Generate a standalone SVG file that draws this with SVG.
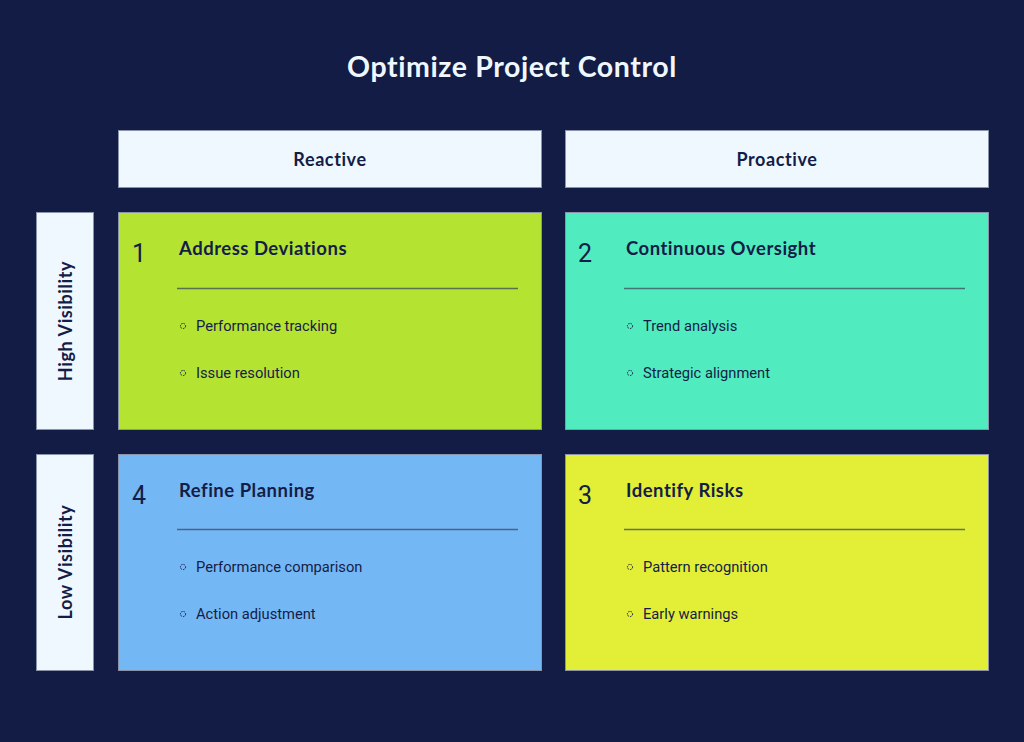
<svg xmlns="http://www.w3.org/2000/svg" width="1024" height="742" viewBox="0 0 1024 742">
<style>
.hdr{fill:#f0f8ff;stroke:#8a93aa;stroke-width:1}
.hdrt{font-family:Lato,"Noto Sans",sans-serif;font-weight:700;font-size:18px;letter-spacing:0.6px;fill:#141d47;text-anchor:middle}
.num{font-family:Roboto,"Noto Sans",sans-serif;font-weight:400;font-size:25px;fill:#141d47}
.ttl{font-family:Lato,"Noto Sans",sans-serif;font-weight:700;font-size:18.5px;letter-spacing:0.5px;fill:#141d47}
.sep{stroke:#3d4a5a;stroke-opacity:0.75;stroke-width:1.5}
.bul{fill:none;stroke:#141d47;stroke-width:1;stroke-dasharray:1.5 1}
.txt{font-family:Roboto,"Noto Sans",sans-serif;font-size:14.7px;fill:#141d47}
.cell{stroke:#8a93aa;stroke-width:1}
</style>
<rect width="1024" height="742" fill="#121c45"/>
<text x="512" y="77" font-family="Lato,'Noto Sans',sans-serif" font-weight="700" font-size="28.5" letter-spacing="0.6" fill="#f0f8ff" text-anchor="middle">Optimize Project Control</text>
<g id="col-reactive"><rect class="hdr" x="118.5" y="130.5" width="423" height="57"/><text class="hdrt" x="330" y="166">Reactive</text></g>
<g id="col-proactive"><rect class="hdr" x="565.5" y="130.5" width="423" height="57"/><text class="hdrt" x="777" y="166">Proactive</text></g>
<g id="row-high"><rect class="hdr" x="36.5" y="212.5" width="57" height="217"/><text class="hdrt" transform="translate(72,321) rotate(-90)">High Visibility</text></g>
<g id="row-low"><rect class="hdr" x="36.5" y="454.5" width="57" height="216"/><text class="hdrt" transform="translate(72,562) rotate(-90)">Low Visibility</text></g>
<g id="q1"><rect class="cell" x="118.5" y="212.5" width="423" height="217" fill="#b5e332"/>
<text class="num" x="132" y="262">1</text><text class="ttl" x="179" y="255">Address Deviations</text>
<line class="sep" x1="177" y1="288.5" x2="518" y2="288.5"/>
<circle class="bul" cx="183" cy="326" r="2.6"/><text class="txt" x="196" y="331">Performance tracking</text>
<circle class="bul" cx="183" cy="373" r="2.6"/><text class="txt" x="196" y="378">Issue resolution</text></g>
<g id="q2"><rect class="cell" x="565.5" y="212.5" width="423" height="217" fill="#50ecc0"/>
<text class="num" x="578" y="262">2</text><text class="ttl" x="626" y="255">Continuous Oversight</text>
<line class="sep" x1="624" y1="288.5" x2="965" y2="288.5"/>
<circle class="bul" cx="630" cy="326" r="2.6"/><text class="txt" x="643" y="331">Trend analysis</text>
<circle class="bul" cx="630" cy="373" r="2.6"/><text class="txt" x="643" y="378">Strategic alignment</text></g>
<g id="q4"><rect class="cell" x="118.5" y="454.5" width="423" height="216" fill="#74b7f5"/>
<text class="num" x="132" y="504">4</text><text class="ttl" x="179" y="497">Refine Planning</text>
<line class="sep" x1="177" y1="529.5" x2="518" y2="529.5"/>
<circle class="bul" cx="183" cy="567" r="2.6"/><text class="txt" x="196" y="572">Performance comparison</text>
<circle class="bul" cx="183" cy="614" r="2.6"/><text class="txt" x="196" y="619">Action adjustment</text></g>
<g id="q3"><rect class="cell" x="565.5" y="454.5" width="423" height="216" fill="#e3ef36"/>
<text class="num" x="578" y="504">3</text><text class="ttl" x="626" y="497">Identify Risks</text>
<line class="sep" x1="624" y1="529.5" x2="965" y2="529.5"/>
<circle class="bul" cx="630" cy="567" r="2.6"/><text class="txt" x="643" y="572">Pattern recognition</text>
<circle class="bul" cx="630" cy="614" r="2.6"/><text class="txt" x="643" y="619">Early warnings</text></g>
<g id="connectors"/>
</svg>
